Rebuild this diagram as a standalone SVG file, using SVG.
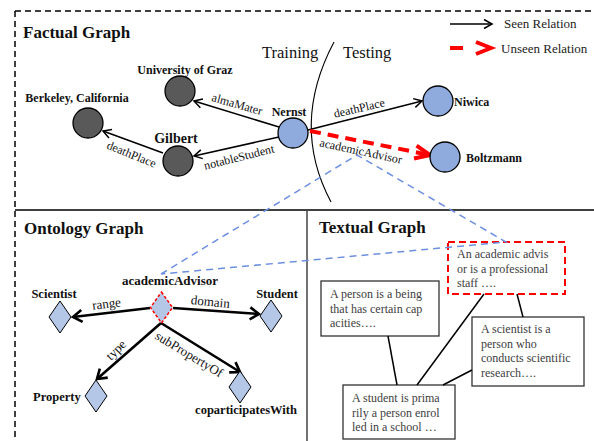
<svg xmlns="http://www.w3.org/2000/svg" width="594" height="441" viewBox="0 0 594 441">
<style>
.title{font-family:"Liberation Serif","Times New Roman",serif;font-weight:bold;font-size:17px;fill:#111}
.nl{font-family:"Liberation Serif","Times New Roman",serif;font-weight:bold;font-size:12px;fill:#111}
.el{font-family:"Liberation Serif","Times New Roman",serif;font-size:12px;fill:#111}
.ol{font-family:"Liberation Serif","Times New Roman",serif;font-size:13px;fill:#111}
.big{font-family:"Liberation Serif","Times New Roman",serif;font-size:16.5px;fill:#111}
.leg{font-family:"Liberation Serif","Times New Roman",serif;font-size:13px;fill:#222}
.tx{font-family:"Liberation Serif","Times New Roman",serif;font-size:12px;fill:#404040}
.dark{fill:#595959;stroke:#000;stroke-width:1.3}
.blue{fill:#8faadc;stroke:#000;stroke-width:1.3}
.dia{fill:#b4c7e7;stroke:#000;stroke-width:1}
.thin{stroke:#000;stroke-width:1.5;fill:none}
.thick{stroke:#000;stroke-width:2.6;fill:none}
.red{stroke:#ff0000;stroke-width:4;fill:none;stroke-dasharray:11 7}
.bl{stroke:#6d8fe0;stroke-width:1.5;fill:none;stroke-dasharray:7 5}
.box{fill:#fff;stroke:#333;stroke-width:1.3}
.tl{stroke:#000;stroke-width:1.5}
</style>
<defs>
<marker id="ah" markerUnits="userSpaceOnUse" refX="0" refY="0" orient="auto" style="overflow:visible">
<path d="M-8,-4.5 L0,0 L-8,4.5" fill="none" stroke="#000" stroke-width="1.5"/>
</marker>
<marker id="ahk" markerUnits="userSpaceOnUse" refX="0" refY="0" orient="auto" style="overflow:visible">
<path d="M-9,-6 L0,0 L-9,6" fill="none" stroke="#000" stroke-width="2.6"/>
</marker>
<marker id="ahr" markerUnits="userSpaceOnUse" refX="0" refY="0" orient="auto" style="overflow:visible">
<path d="M-15,-6.5 L0,0 L-15,6.5" fill="none" stroke="#ff0000" stroke-width="4"/>
</marker>
</defs>

<g id="frame">
<path d="M15,11 H594 M15,11 V441" stroke="#000" stroke-width="1.5" stroke-dasharray="6 4" fill="none"/>
<line x1="15" y1="210" x2="594" y2="210" stroke="#000" stroke-width="1.5"/>
<line x1="307" y1="210" x2="307" y2="441" stroke="#444" stroke-width="1.5"/>
<text class="title" x="23" y="38">Factual Graph</text>
<text class="title" x="24" y="234">Ontology Graph</text>
<text class="title" x="319" y="233">Textual Graph</text>
<text class="big" x="262" y="58">Training</text>
<text class="big" x="343" y="58">Testing</text>
<path d="M334,42 Q290,125 331,202" fill="none" stroke="#000" stroke-width="1.1"/>
</g>

<g id="legend">
<line x1="450" y1="24" x2="492" y2="24" class="thin" marker-end="url(#ah)"/>
<text class="leg" x="504" y="28">Seen Relation</text>
<line x1="450" y1="48" x2="463" y2="48" stroke="#ff0000" stroke-width="4"/>
<path d="M476,42 L491,48 L476,54" fill="none" stroke="#ff0000" stroke-width="4"/>
<text class="leg" x="501" y="53">Unseen Relation</text>
</g>

<g id="t-person"><rect class="box" x="321" y="281" width="118" height="55"/><text class="tx" x="330" y="298">A person is a being</text><text class="tx" x="330" y="312.5">that has certain cap</text><text class="tx" x="330" y="327">acities….</text></g>
<g id="t-scientist"><rect class="box" x="472" y="317" width="112" height="69"/><text class="tx" x="481" y="333">A scientist is a</text><text class="tx" x="481" y="347.5">person who</text><text class="tx" x="481" y="362">conducts scientific</text><text class="tx" x="481" y="376.5">research….</text></g>
<g id="t-student"><rect class="box" x="343" y="385" width="112" height="54"/><text class="tx" x="352" y="402">A student is prima</text><text class="tx" x="352" y="416.5">rily a person enrol</text><text class="tx" x="352" y="431">led in a school …</text></g>
<g id="t-advisor"><rect x="448" y="242" width="117" height="52" fill="none" stroke="#ff0000" stroke-width="2" stroke-dasharray="7 4"/><text class="tx" x="457" y="258">An academic advis</text><text class="tx" x="457" y="272.5">or is a professional</text><text class="tx" x="457" y="287">staff ….</text></g>

<g id="connectors">
<line x1="279" y1="127" x2="194" y2="101" class="thin" marker-end="url(#ah)"/>
<line x1="279" y1="137" x2="194" y2="156" class="thin" marker-end="url(#ah)"/>
<line x1="163" y1="153" x2="103" y2="131" class="thin" marker-end="url(#ah)"/>
<line x1="308" y1="130" x2="422" y2="101" class="thin" marker-end="url(#ah)"/>
<line x1="310" y1="131" x2="430" y2="155" class="red" marker-end="url(#ahr)"/>
<line x1="150" y1="308" x2="73" y2="317" class="thick" marker-end="url(#ahk)"/>
<line x1="173" y1="308" x2="259" y2="314" class="thick" marker-end="url(#ahk)"/>
<line x1="161" y1="323" x2="97" y2="379" class="thick" marker-end="url(#ahk)"/>
<line x1="161" y1="323" x2="240" y2="372" class="thick" marker-end="url(#ahk)"/>
<line x1="484" y1="294" x2="417" y2="385" class="tl"/>
<line x1="517" y1="294" x2="523" y2="317" class="tl"/>
<line x1="388" y1="336" x2="397" y2="385" class="tl"/>
<line x1="472" y1="370" x2="443" y2="385" class="tl"/>
<path d="M161,274 L357,155 L506,242 Z" class="bl"/>
<text class="el" transform="translate(236,108) rotate(16)" text-anchor="middle">almaMater</text>
<text class="el" transform="translate(240,161) rotate(-14)" text-anchor="middle">notableStudent</text>
<text class="el" transform="translate(130,158) rotate(22)" text-anchor="middle">deathPlace</text>
<text class="el" transform="translate(360,112) rotate(-13)" text-anchor="middle">deathPlace</text>
<text class="el" transform="translate(360,155) rotate(12)" text-anchor="middle">academicAdvisor</text>
<text class="ol" transform="translate(107,308) rotate(-7)" text-anchor="middle">range</text>
<text class="ol" transform="translate(210,306) rotate(6)" text-anchor="middle">domain</text>
<text class="ol" transform="translate(119,353) rotate(-45)" text-anchor="middle">type</text>
<text class="ol" transform="translate(187,358) rotate(31)" text-anchor="middle">subPropertyOf</text>
</g>

<g id="n-graz"><circle class="dark" cx="180" cy="91" r="15"/><text class="nl" x="185" y="74" text-anchor="middle">University of Graz</text></g>
<g id="n-berkeley"><circle class="dark" cx="88" cy="123" r="15"/><text class="nl" x="77" y="102" text-anchor="middle">Berkeley, California</text></g>
<g id="n-gilbert"><circle class="dark" cx="178" cy="161" r="15"/><text class="nl" x="176" y="143" text-anchor="middle" style="font-size:14px">Gilbert</text></g>
<g id="n-nernst"><circle class="blue" cx="293" cy="133" r="15"/><text class="nl" x="289" y="116" text-anchor="middle">Nernst</text></g>
<g id="n-niwica"><circle class="blue" cx="438" cy="101" r="15"/><text class="nl" x="454" y="106">Niwica</text></g>
<g id="n-boltzmann"><circle class="blue" cx="445" cy="157" r="15"/><text class="nl" x="466" y="162">Boltzmann</text></g>

<g id="o-academicAdvisor"><path d="M161.5,292 L172.5,307.5 L161.5,323 L150.5,307.5 Z" class="dia" style="stroke:#ff0000;stroke-width:1.5;stroke-dasharray:3 2"/><text class="nl" x="170" y="285" text-anchor="middle" style="font-size:13px">academicAdvisor</text></g>
<g id="o-scientist"><path d="M60,301 L71,317 L60,333 L49,317 Z" class="dia"/><text class="nl" x="54" y="298" text-anchor="middle" style="font-size:12.5px">Scientist</text></g>
<g id="o-student"><path d="M271,300 L282,316 L271,332 L260,316 Z" class="dia"/><text class="nl" x="277" y="298" text-anchor="middle" style="font-size:12.5px">Student</text></g>
<g id="o-property"><path d="M96,380 L107,396 L96,412 L85,396 Z" class="dia"/><text class="nl" x="33" y="401" style="font-size:12.5px">Property</text></g>
<g id="o-coparticipatesWith"><path d="M240,371 L251,387 L240,403 L229,387 Z" class="dia"/><text class="nl" x="246" y="414" text-anchor="middle" style="font-size:12.5px">coparticipatesWith</text></g>
</svg>
